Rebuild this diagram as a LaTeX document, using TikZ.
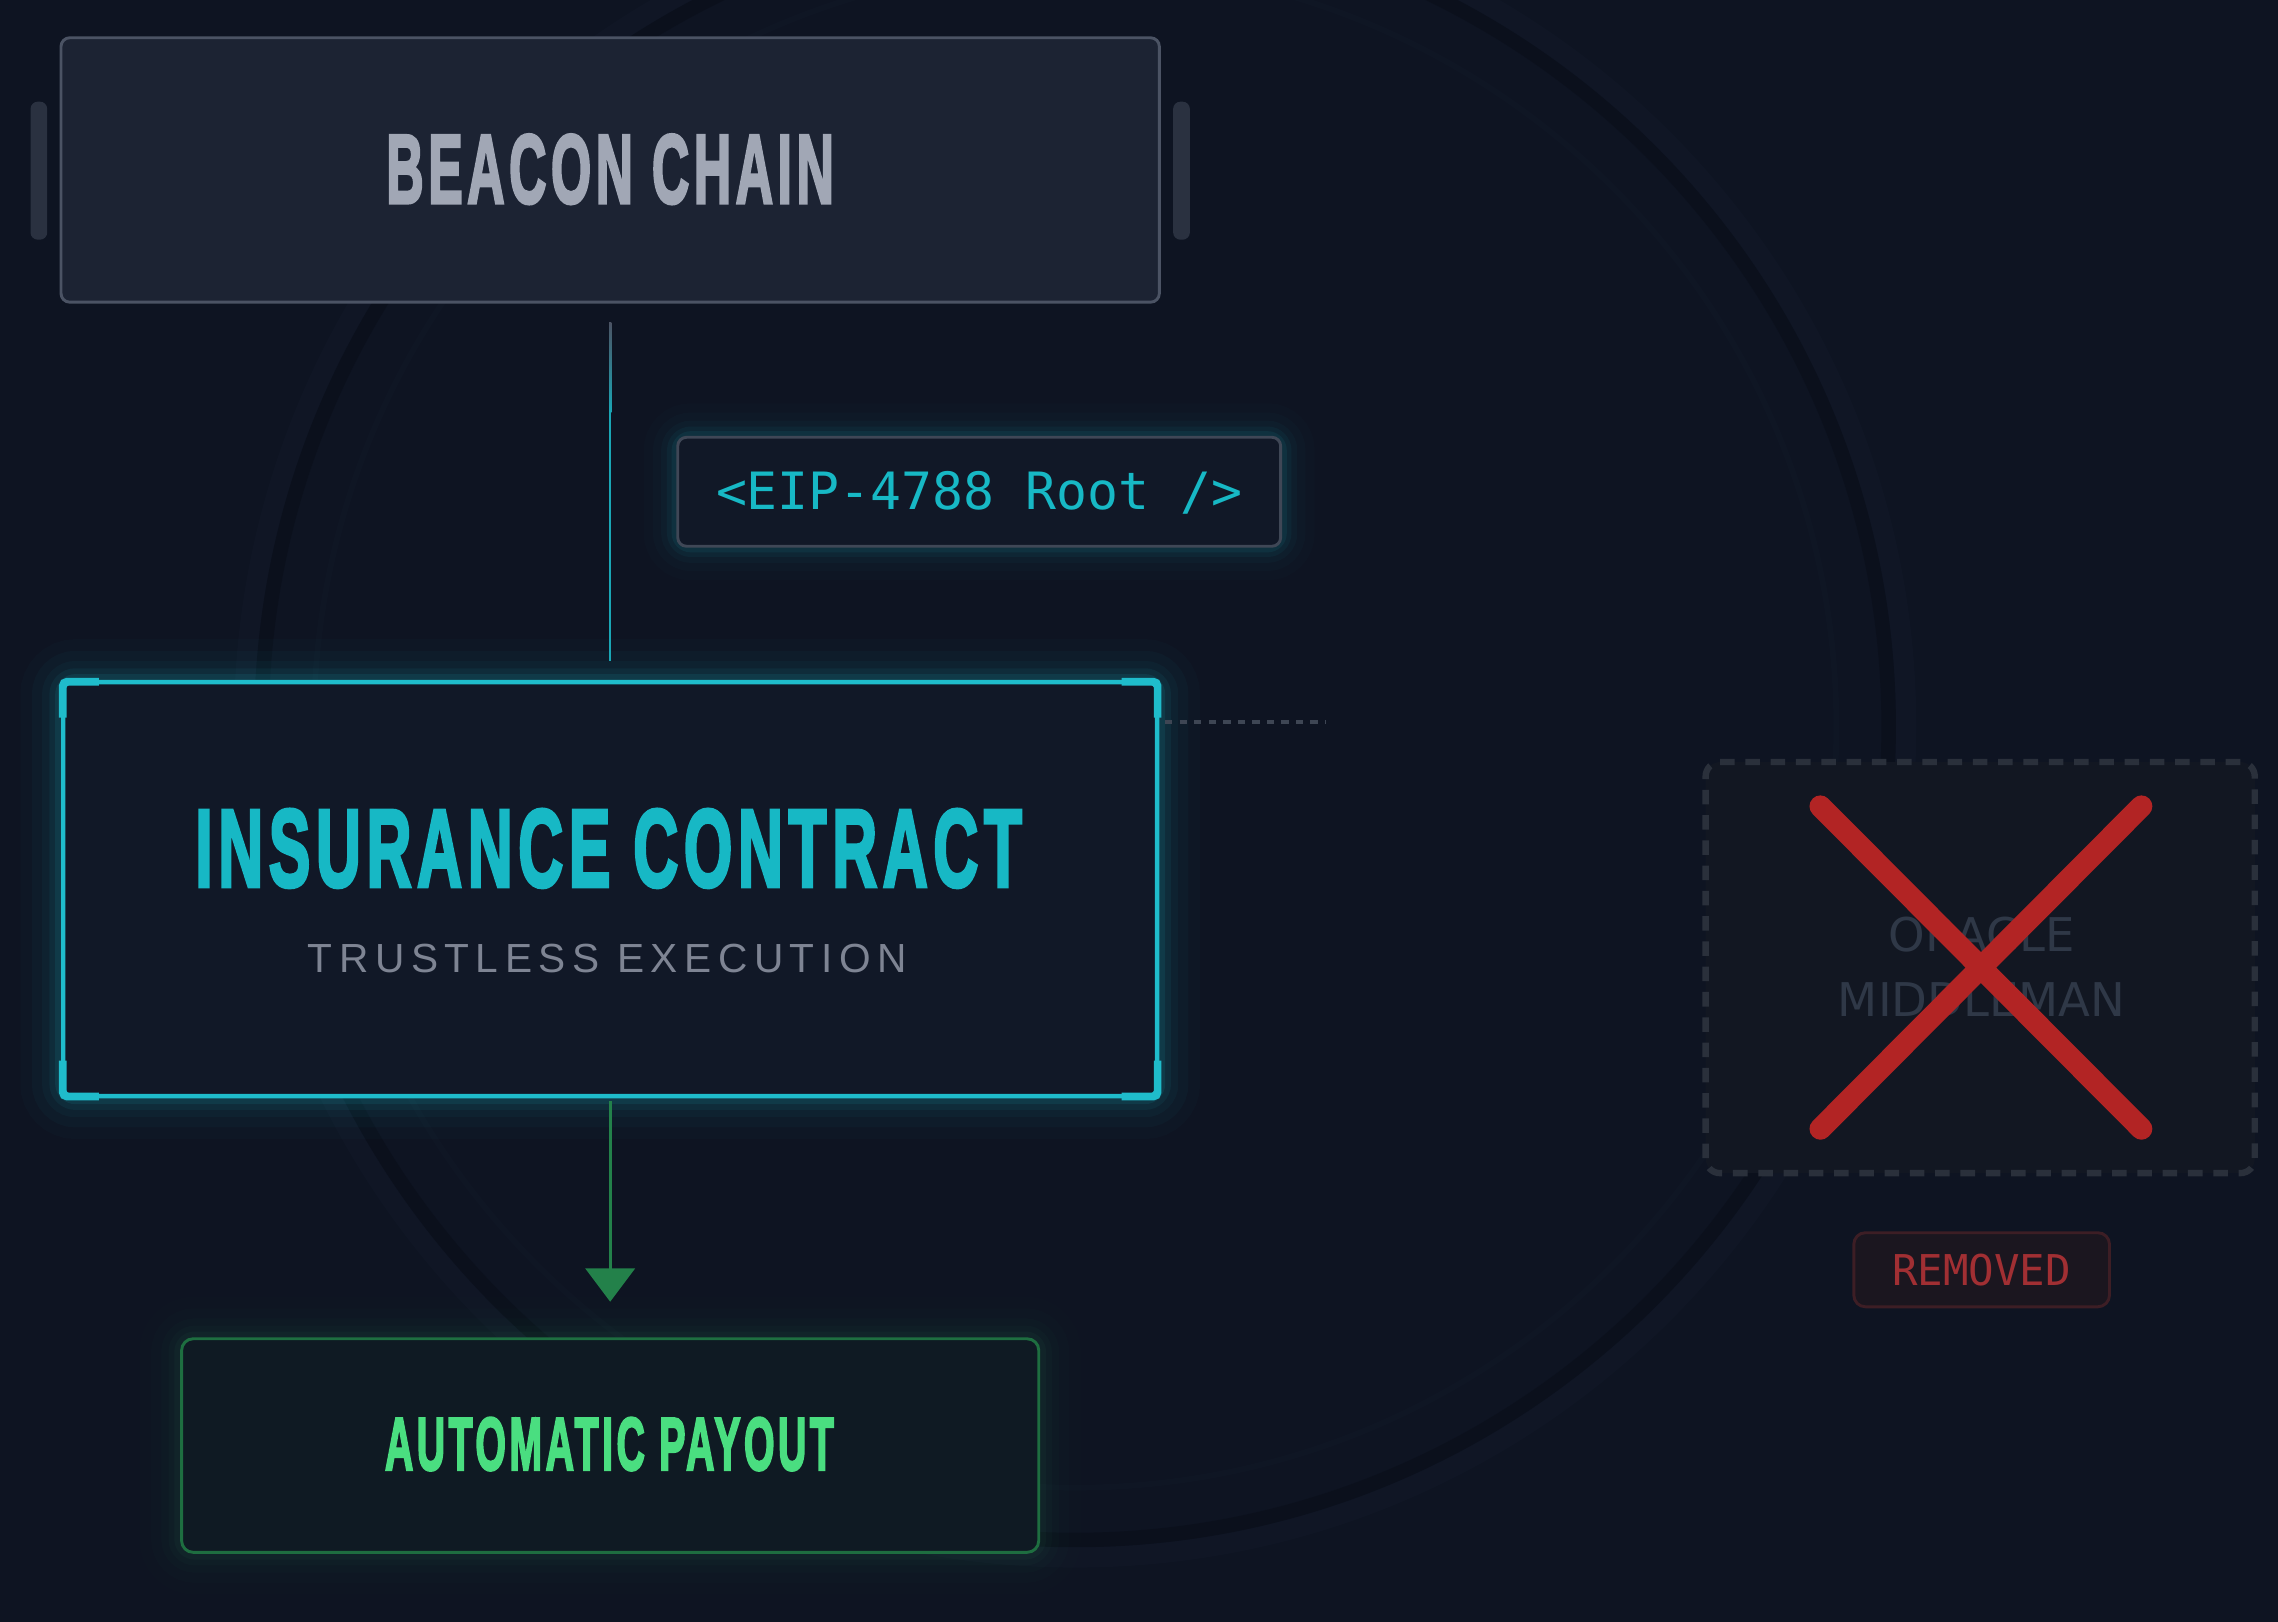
\documentclass[tikz,border=0pt]{standalone}
\usepackage{fontspec}
\usepackage{graphicx}
\setmainfont{Liberation Sans}
\newfontfamily\headfont[BoldFeatures={FakeBold=3.5},LetterSpace=9]{Liberation Sans}
\newfontfamily\spacedfont[LetterSpace=16]{Liberation Sans}
\newfontfamily\codefont{DejaVu Sans Mono}
\newfontfamily\orafont{DejaVu Sans}
\usetikzlibrary{arrows.meta,calc}
\definecolor{bgcol}{HTML}{0E1422}
\definecolor{ringcol}{HTML}{0B101C}
\definecolor{ringlight}{HTML}{111827}
\definecolor{beaconfill}{HTML}{1C2333}
\definecolor{beaconborder}{HTML}{4B5364}
\definecolor{beacontext}{HTML}{A1A7B5}
\definecolor{sidebar}{HTML}{2A3140}
\definecolor{eipfill}{HTML}{111827}
\definecolor{eipborder}{HTML}{3F4756}
\definecolor{cyantext}{HTML}{17B8C5}
\definecolor{cyanborder}{HTML}{1FBCCB}
\definecolor{cyanline}{HTML}{1AA6B5}
\definecolor{grayline}{HTML}{4B5364}
\definecolor{insfill}{HTML}{111827}
\definecolor{subtext}{HTML}{7E8493}
\definecolor{greenborder}{HTML}{1E6E40}
\definecolor{payfill}{HTML}{0F1A23}
\definecolor{greentext}{HTML}{4ADE80}
\definecolor{greenarrow}{HTML}{23814A}
\definecolor{dashcol}{HTML}{3E4654}
\definecolor{orafill}{HTML}{121722}
\definecolor{oraborder}{HTML}{2A303B}
\definecolor{oratext}{HTML}{2F3847}
\definecolor{xred}{HTML}{B22424}
\definecolor{remfill}{HTML}{1B161F}
\definecolor{remborder}{HTML}{3D1E25}
\definecolor{remtext}{HTML}{A12F33}
\pgfdeclarelayer{back}
\pgfdeclarelayer{glow}
\pgfsetlayers{back,glow,main}
\begin{document}
\begin{tikzpicture}[x=0.5pt,y=-0.5pt,
  panel/.style={inner sep=0pt, rounded corners=3pt},
  labeltext/.style={inner sep=0pt},
  sidebarst/.style={fill=sidebar, rounded corners=2.5pt, inner sep=0pt, minimum width=5.75pt, minimum height=47.5pt},
  bracketst/.style={draw=cyanborder, line width=2.65pt, rounded corners=1.5pt},
  glowc/.style={draw=cyanborder, rounded corners=5pt},
  glowg/.style={draw=greentext, rounded corners=5pt}]
\useasboundingbox (0,0) rectangle (1568,1116.4);
\begin{pgfonlayer}{back}
\fill[bgcol] (0,0) rectangle (1568,1116.4);
\begin{scope}
\clip (0,0) rectangle (1568,1116.4);
\draw[ringlight, line width=7pt, opacity=0.7] (740,500) circle[radius=286pt];
\draw[ringcol, line width=5pt, opacity=0.85] (740,500) circle[radius=280pt];
\draw[ringlight, line width=2pt, opacity=0.5] (740,500) circle[radius=262pt];
\end{scope}
\end{pgfonlayer}

% Beacon chain
\node[panel, draw=beaconborder, fill=beaconfill, line width=1pt, minimum width=378pt, minimum height=91pt] (beacon) at (420,117) {};
\node[labeltext, text=beacontext] (beacontitle) at (420,116.5) {\resizebox{154pt}{23.5pt}{\headfont\bfseries BEACON CHAIN}};
\node[sidebarst] (lbar) at (26.75,117.5) {};
\node[sidebarst] (rbar) at (813.25,117.5) {};

% EIP label
\node[panel, draw=eipborder, fill=eipfill, line width=1pt, minimum width=207.5pt, minimum height=37.5pt] (eip) at (674,338.5) {};
\node[labeltext, anchor=base, text=cyantext] (eiptext) at (674,351) {\codefont\fontsize{17.7pt}{20pt}\selectfont <EIP-4788 Root />};

% Insurance contract
\node[panel, draw=cyanborder, fill=insfill, line width=1.5pt, minimum width=376.5pt, minimum height=142.5pt] (ins) at (420,612) {};
\node[labeltext, text=cyantext] (institle) at (419,584) {\resizebox{284.5pt}{26.5pt}{\headfont\bfseries INSURANCE CONTRACT}};
\node[labeltext, text=subtext] (inssub) at (418,659.5) {\resizebox{206pt}{!}{\spacedfont TRUSTLESS EXECUTION}};
\draw[bracketst] ($(ins.north west)+(1.2,26)$) -- ($(ins.north west)+(1.2,1.2)$) -- ($(ins.north west)+(26,1.2)$);
\draw[bracketst] ($(ins.north east)+(-1.2,26)$) -- ($(ins.north east)+(-1.2,1.2)$) -- ($(ins.north east)+(-26,1.2)$);
\draw[bracketst] ($(ins.south west)+(1.2,-26)$) -- ($(ins.south west)+(1.2,-1.2)$) -- ($(ins.south west)+(26,-1.2)$);
\draw[bracketst] ($(ins.south east)+(-1.2,-26)$) -- ($(ins.south east)+(-1.2,-1.2)$) -- ($(ins.south east)+(-26,-1.2)$);

% Automatic payout
\node[panel, draw=greenborder, fill=payfill, line width=1pt, rounded corners=4pt, minimum width=295pt, minimum height=73.5pt] (pay) at (420,995) {};
\node[labeltext, text=greentext] (paytitle) at (419.5,994) {\resizebox{154.5pt}{18pt}{\headfont\bfseries AUTOMATIC PAYOUT}};

% Oracle middleman
\node[panel, draw=oraborder, dash pattern=on 5pt off 3.7pt, line width=2.2pt, fill=orafill, rounded corners=5pt, minimum width=189pt, minimum height=141.5pt] (oracle) at (1363,666) {};
\node[labeltext, anchor=base, text=oratext] (oraline1) at (1364,655) {\orafont\fontsize{16pt}{19pt}\selectfont ORACLE};
\node[labeltext, anchor=base, text=oratext] (oraline2) at (1364,699.5) {\orafont\fontsize{16pt}{19pt}\selectfont MIDDLEMAN};
\coordinate (xa) at (1253,555);
\coordinate (xb) at (1474,777);
\coordinate (xc) at (1474,555);
\coordinate (xd) at (1253,777);
\draw[xred, line width=7.5pt, line cap=round] (xa) -- (xb) (xc) -- (xd);

% Removed badge
\node[panel, draw=remborder, fill=remfill, line width=1pt, rounded corners=4pt, minimum width=88pt, minimum height=25.5pt] (rem) at (1364,874) {};
\node[labeltext, anchor=base, text=remtext] (remtext) at (1364,884.5) {\codefont\fontsize{14.6pt}{17pt}\selectfont REMOVED};

% Connectors
\draw[cyanline, line width=0.75pt, shorten <=6.5pt, shorten >=6.5pt] (beacon.south) -- (ins.north);
\shade[top color=grayline, bottom color=cyanline] ($(beacon.south)+(-0.75,13)$) rectangle ($(beacon.south)+(0.75,75)$);
\draw[greenarrow, line width=1pt, shorten <=1pt, shorten >=12.25pt, -{Triangle[width=17pt,length=11.5pt]}] (ins.south) -- (pay.north);
\coordinate (dashend) at (913,497);
\draw[dashcol, line width=1.1pt, dash pattern=on 2.5pt off 2.5pt] ($(ins.east |- dashend)+(4,0)$) -- (dashend);

% Glows
\begin{pgfonlayer}{glow}
\foreach \w/\o in {28/0.02,20/0.03,13/0.045,8/0.065,4/0.1}{
  \draw[glowc, line width=\w pt, opacity=\o] (ins.north west) rectangle (ins.south east);
  \draw[glowc, line width=0.8*\w pt, opacity=0.8*\o] (eip.north west) rectangle (eip.south east);
  \draw[glowg, line width=\w pt, opacity=0.35*\o] (pay.north west) rectangle (pay.south east);
  \draw[xred, line width=7.5pt+0.5*\w pt, line cap=round, opacity=0.6*\o] (xa) -- (xb) (xc) -- (xd);
}
\end{pgfonlayer}
\end{tikzpicture}
\end{document}
